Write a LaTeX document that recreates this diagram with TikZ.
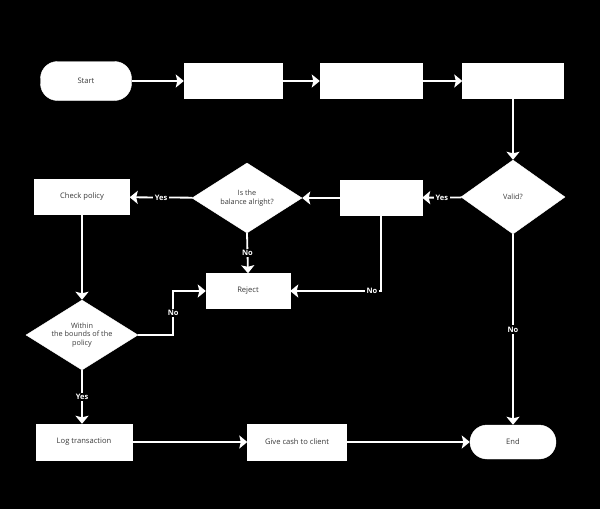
\documentclass[tikz,border=0pt]{standalone}
\usepackage{fontspec}
\setmainfont{Open Sans}
\usepackage{xcolor}
\usetikzlibrary{arrows.meta,shapes.geometric}
\definecolor{ink}{HTML}{3A3A3A}
\tikzset{
  box/.style={draw=white, fill=white, text=ink, align=center, inner sep=1pt,
              minimum width=#1, minimum height=35pt, font=\fontsize{7.6}{9}\selectfont},
  term/.style={box=#1, rounded corners=17pt},
  decision/.style={diamond, draw=white, fill=white, text=ink, align=center, inner sep=-4pt,
                   font=\fontsize{7.3}{8.6}\selectfont},
  flow/.style={-{Stealth[length=8pt,width=13pt,inset=1.5pt]}, line width=1.8pt, draw=white},
  lbl/.style={font=\fontsize{7.5}{9}\selectfont\bfseries, text=white, fill=black, inner sep=1.5pt}
}
\begin{document}
\begin{tikzpicture}[x=1pt,y=-1pt]
  \fill[black] (0,0) rectangle (600,509);
  \useasboundingbox (0,0) rectangle (600,509);
  % top row
  \node[term=91pt, minimum height=39pt] (start) at (86,81) {Start};
  \node[box=98pt] (b1) at (233,81) {};
  \node[box=102pt] (b2) at (371,81) {};
  \node[box=101pt] (b3) at (513,81) {};
  % middle
  \node[decision, minimum width=104pt, minimum height=74pt] (valid) at (513,197) {Valid?};
  \node[box=82pt] (vbox) at (381,198) {};
  \node[decision, minimum width=110pt, minimum height=70pt] (bal) at (247,198) {Is the\\balance alright?};
  \node[box=95pt] (check) at (82,197) {Check policy};
  \node[box=84pt] (reject) at (248,291) {Reject};
  \node[decision, minimum width=112pt, minimum height=70pt] (within) at (82,335) {Within\\the bounds of the\\policy};
  % bottom row
  \node[box=96pt, minimum height=36pt] (log) at (84,442) {Log transaction};
  \node[box=99pt, minimum height=36pt] (give) at (297,442) {Give cash to client};
  \node[term=86pt, minimum height=34pt] (end) at (513,442) {End};
  % connectors
  \draw[flow] (start) -- (b1);
  \draw[flow] (b1) -- (b2);
  \draw[flow] (b2) -- (b3);
  \draw[flow] (b3) -- (valid);
  \draw[flow] (valid) -- node[lbl]{Yes} (vbox);
  \draw[flow] (vbox) -- (bal);
  \draw[flow] (bal) -- node[lbl]{Yes} (check);
  \draw[flow] (bal.south) -- node[lbl]{No} (reject.north);
  \draw[flow] (vbox.south) |- node[lbl, pos=0.55]{No} (reject.east);
  \draw[flow] (check) -- (within);
  \draw[flow] (within.east) -- ++(35,0) |- node[lbl, pos=0.25]{No} (reject.west);
  \draw[flow] (within.south) -- node[lbl]{Yes} (within.south |- log.north);
  \draw[flow] (log) -- (give);
  \draw[flow] (give) -- (end);
  \draw[flow] (valid.south) -- node[lbl]{No} (end.north);
\end{tikzpicture}
\end{document}
